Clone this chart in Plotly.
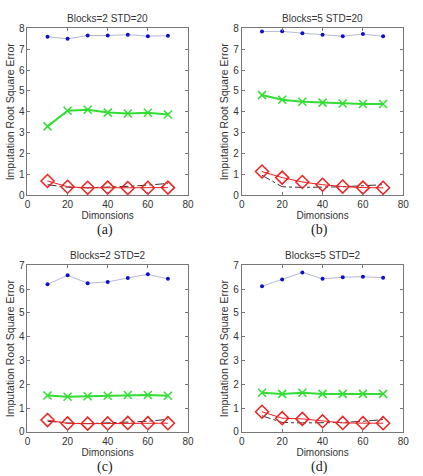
import plotly.graph_objects as go

dims = [10, 20, 30, 40, 50, 60, 70]
titles = ["Blocks=2 STD=20", "Blocks=5 STD=20", "Blocks=2 STD=2", "Blocks=5 STD=2"]
captions = ["(a)", "(b)", "(c)", "(d)"]
x_ticks = [0, 20, 40, 60, 80]

blue_a = [7.6, 7.5, 7.66, 7.66, 7.7, 7.63, 7.65]
green_a = [3.3, 4.05, 4.1, 3.96, 3.92, 3.95, 3.87]
red_a = [0.68, 0.4, 0.35, 0.36, 0.34, 0.35, 0.36]
black_a = [0.5, 0.38, 0.35, 0.38, 0.42, 0.48, 0.56]

blue_b = [7.85, 7.86, 7.77, 7.7, 7.63, 7.73, 7.62]
green_b = [4.8, 4.58, 4.48, 4.44, 4.4, 4.37, 4.37]
red_b = [1.13, 0.84, 0.63, 0.5, 0.41, 0.36, 0.35]
black_b = [0.95, 0.4, 0.37, 0.38, 0.4, 0.45, 0.5]

blue_c = [6.2, 6.58, 6.25, 6.3, 6.47, 6.62, 6.43]
green_c = [1.53, 1.48, 1.5, 1.52, 1.55, 1.55, 1.52]
red_c = [0.5, 0.36, 0.35, 0.36, 0.38, 0.37, 0.37]
black_c = [0.45, 0.38, 0.35, 0.38, 0.41, 0.45, 0.53]

blue_d = [6.12, 6.4, 6.7, 6.43, 6.5, 6.52, 6.48]
green_d = [1.65, 1.6, 1.65, 1.6, 1.6, 1.6, 1.6]
red_d = [0.85, 0.58, 0.55, 0.45, 0.38, 0.37, 0.37]
black_d = [0.68, 0.4, 0.38, 0.38, 0.4, 0.45, 0.52]

data = [
    (blue_a, green_a, red_a, black_a, 8),
    (blue_b, green_b, red_b, black_b, 8),
    (blue_c, green_c, red_c, black_c, 7),
    (blue_d, green_d, red_d, black_d, 7),
]

W, H = 423, 476
# pixel boxes: left, right, top, bottom
boxes = [(25, 189, 23, 194), (244, 409, 23, 194), (25, 189, 266, 437), (244, 409, 266, 437)]

fig = go.Figure()
layout = dict(width=W, height=H, margin=dict(l=0, r=0, t=0, b=0),
              paper_bgcolor="white", plot_bgcolor="white", showlegend=False,
              font=dict(family="Liberation Sans, Arial", color="#333"))
annotations = []
for i, ((blue, green, red, black, ymax), (l, r, t, b)) in enumerate(zip(data, boxes)):
    n = "" if i == 0 else str(i + 1)
    xa, ya = "x" + n, "y" + n
    fig.add_trace(go.Scatter(x=dims, y=black, mode="lines", xaxis=xa, yaxis=ya,
                             line=dict(color="#333333", width=1, dash="dashdot")))
    fig.add_trace(go.Scatter(x=dims, y=red, mode="lines+markers", xaxis=xa, yaxis=ya,
                             line=dict(color="#ee2020", width=1),
                             marker=dict(symbol="diamond-open", size=10, color="#ee2020",
                                         line=dict(width=1.5, color="#ee2020"))))
    fig.add_trace(go.Scatter(x=dims, y=green, mode="lines+markers", xaxis=xa, yaxis=ya,
                             line=dict(color="#33dd33", width=2),
                             marker=dict(symbol="x-thin-open", size=8,
                                         line=dict(width=1.5, color="#22cc22"))))
    fig.add_trace(go.Scatter(x=dims, y=blue, mode="lines+markers", xaxis=xa, yaxis=ya,
                             line=dict(color="#b4bad6", width=1),
                             marker=dict(symbol="circle", size=4, color="#1010cc")))
    axis_common = dict(showline=True, mirror="ticks", linecolor="#777", linewidth=1,
                       ticks="inside", ticklen=3, tickcolor="#777", showgrid=False,
                       zeroline=False, tickfont=dict(size=10, color="#333"))
    layout["xaxis" + n] = dict(axis_common, domain=[l / W, r / W], range=[0, 80],
                               tickvals=x_ticks, anchor=ya,
                               title=dict(text="Dimonsions", font=dict(size=10), standoff=0))
    layout["yaxis" + n] = dict(axis_common, domain=[1 - b / H, 1 - t / H], range=[0, ymax],
                               dtick=1, anchor=xa,
                               title=dict(text="Imputation Root Square Error",
                                          font=dict(size=10.5), standoff=2))
    cx = (l + r) / 2 / W
    annotations.append(dict(text=titles[i], x=cx, y=1 - (t - 10) / H, xref="paper", yref="paper",
                            showarrow=False, font=dict(size=10, color="#333"),
                            xanchor="center", yanchor="middle"))
    annotations.append(dict(text=captions[i], x=cx - 3 / W, y=1 - (b + 36) / H, xref="paper",
                            yref="paper", showarrow=False,
                            font=dict(size=14, family="Liberation Serif, Times New Roman", color="#222"),
                            xanchor="center", yanchor="middle"))
layout["annotations"] = annotations
fig.update_layout(**layout)
fig.write_html("out.html")
